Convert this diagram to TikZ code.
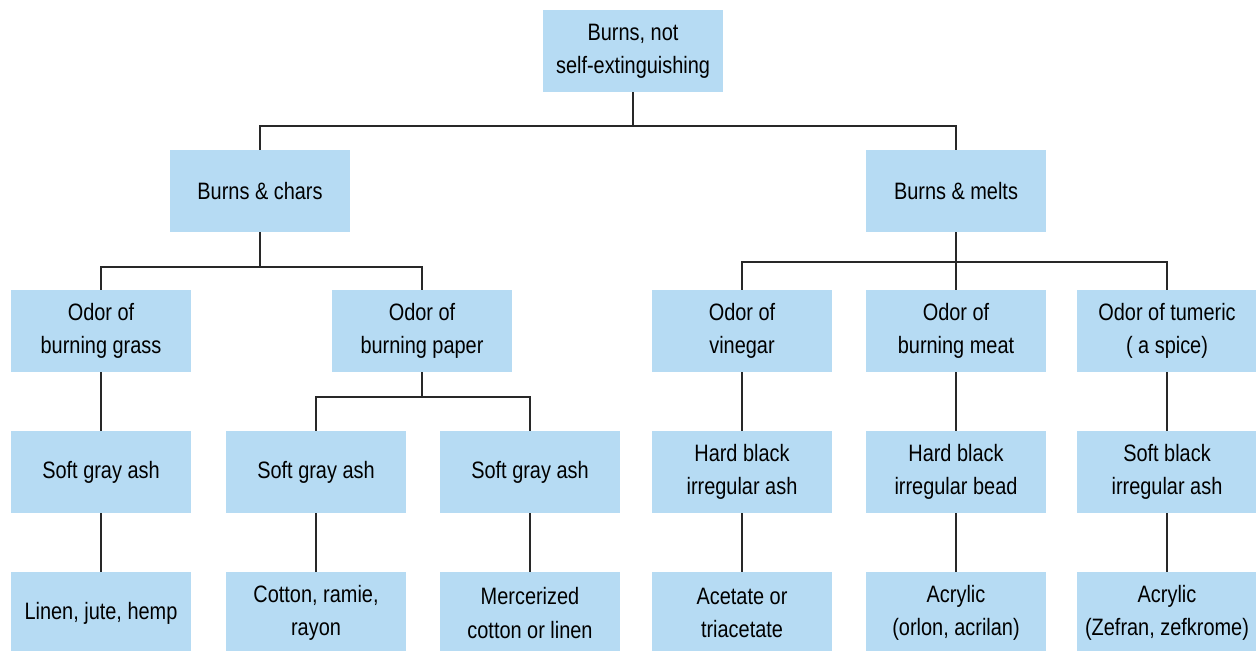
\documentclass[tikz,border=0pt]{standalone}
\usepackage{fontspec}
\setmainfont{Liberation Sans}[FakeStretch=0.84]
\usepackage{tikz}
\definecolor{boxblue}{RGB}{182,219,243}
\definecolor{linegray}{RGB}{40,40,40}

\begin{document}
\begin{tikzpicture}[x=0.02cm,y=-0.02cm,
  fbox/.style={fill=boxblue,minimum width=3.6cm,minimum height=1.64cm,
    inner sep=0pt,align=center,font=\fontsize{13.5}{19}\selectfont},
  conn/.style={draw=linegray,line width=0.8pt}]
\useasboundingbox (0,0) rectangle (1256,651);

%%%%%%%%%%%%%%%%%%Top Level%%%%%%%%%%%%%%%
\node[fbox] (top) at (633,51) {Burns, not\\self-extinguishing};

%%%%%%%%%%%%%%%%%%Second Level%%%%%%%%%%%%%%%
\node[fbox] (chars) at (260,191) {Burns \& chars};
\node[fbox] (melts) at (956,191) {Burns \& melts};

%%%%%%%%%%%%%%%%%%Odors%%%%%%%%%%%%%%%
\node[fbox] (grass) at (101,331) {Odor of\\burning grass};
\node[fbox] (paper) at (422,331) {Odor of\\burning paper};
\node[fbox] (vinegar) at (742,331) {Odor of\\vinegar};
\node[fbox] (meat) at (956,331) {Odor of\\burning meat};
\node[fbox] (tumeric) at (1167,331) {Odor of tumeric\\( a spice)};

%%%%%%%%%%%%%%%%%%Ash%%%%%%%%%%%%%%%
\node[fbox] (ashA) at (101,472) {Soft gray ash};
\node[fbox] (ashB) at (316,472) {Soft gray ash};
\node[fbox] (ashC) at (530,472) {Soft gray ash};
\node[fbox] (hardA) at (742,472) {Hard black\\irregular ash};
\node[fbox] (hardB) at (956,472) {Hard black\\irregular bead};
\node[fbox] (softB) at (1167,472) {Soft black\\irregular ash};

%%%%%%%%%%%%%%%%%%Fibres%%%%%%%%%%%%%%%
\node[fbox] (linen) at (101,613) {Linen, jute, hemp};
\node[fbox] (cotton) at (316,613) {Cotton, ramie,\\rayon};
\node[fbox] (merc) at (530,613) {Mercerized\\cotton or linen};
\node[fbox] (acetate) at (742,613) {Acetate or\\triacetate};
\node[fbox] (acrylA) at (956,613) {Acrylic\\(orlon, acrilan)};
\node[fbox] (acrylB) at (1167,613) {Acrylic\\(Zefran, zefkrome)};

%%%%%%%%%%%%%%%%%%Bus Points%%%%%%%%%%%%%%%
\coordinate (busTop) at (633,126);
\coordinate (busChars) at (260,267);
\coordinate (busMelts) at (956,262);
\coordinate (busPaper) at (422,397);

%%%%%%%%%%%%%%%%%%Connectors%%%%%%%%%%%%%%%
\draw[conn] (top.south) -- (busTop);
\draw[conn] (chars.north) |- (busTop) -| (melts.north);

\draw[conn] (chars.south) -- (busChars);
\draw[conn] (grass.north) |- (busChars) -| (paper.north);

\draw[conn] (melts.south) -- (meat.north);
\draw[conn] (vinegar.north) |- (busMelts) -| (tumeric.north);

\draw[conn] (paper.south) -- (busPaper);
\draw[conn] (ashB.north) |- (busPaper) -| (ashC.north);

\draw[conn] (grass.south) -- (ashA.north);
\draw[conn] (vinegar.south) -- (hardA.north);
\draw[conn] (meat.south) -- (hardB.north);
\draw[conn] (tumeric.south) -- (softB.north);

\draw[conn] (ashA.south) -- (linen.north);
\draw[conn] (ashB.south) -- (cotton.north);
\draw[conn] (ashC.south) -- (merc.north);
\draw[conn] (hardA.south) -- (acetate.north);
\draw[conn] (hardB.south) -- (acrylA.north);
\draw[conn] (softB.south) -- (acrylB.north);

\end{tikzpicture}
\end{document}
